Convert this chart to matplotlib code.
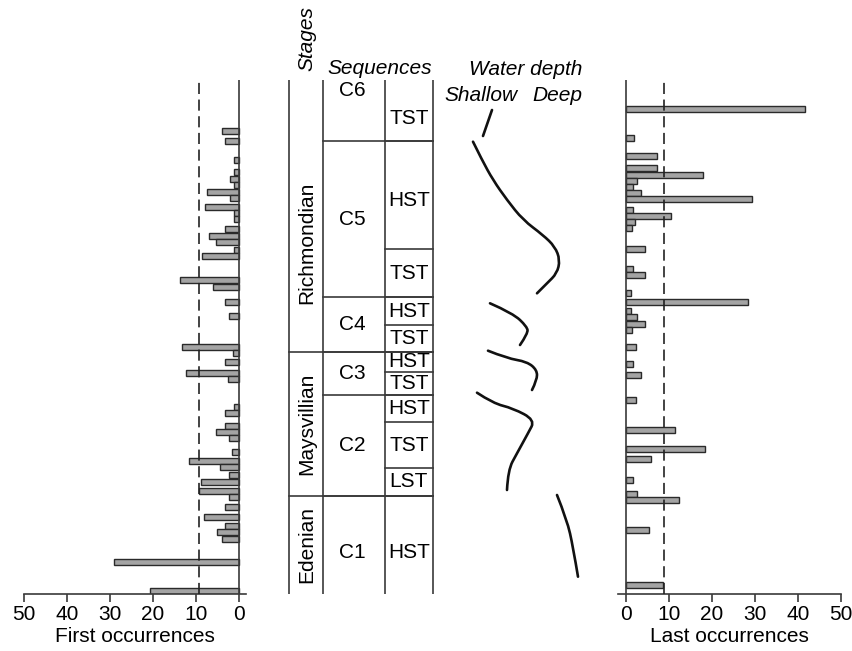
import matplotlib
matplotlib.use("Agg")
import matplotlib.pyplot as plt
from matplotlib.path import Path
from matplotlib.patches import PathPatch
import numpy as np

plt.rcParams['font.family'] = ['Liberation Sans', 'DejaVu Sans']
plt.rcParams['lines.scale_dashes'] = False

# stratigraphic height (arbitrary units, 0 = base of section)
first_lvl = [463, 453, 434, 421.7, 415.3, 409, 402.3, 395.7, 387.3, 381.3, 375,
             364.7, 358.3, 352, 344, 337.7, 313.7, 307.3, 292, 278.3, 247.3, 241,
             232, 221.3, 215, 187, 181, 168, 161.7, 155.7, 141.7, 133, 127.3, 119,
             112.3, 103, 96.7, 87.3, 77, 68.3, 62, 55.3, 32, 3]
first_val = [4.0, 3.1, 1.1, 1.1, 2.1, 1.1, 7.5, 2.1, 7.9, 1.1, 1.1,
             3.1, 7.0, 5.2, 1.1, 8.5, 13.8, 6.1, 3.1, 2.3, 13.2, 1.4,
             3.3, 12.2, 2.5, 1.2, 3.3, 3.1, 5.2, 2.3, 1.5, 11.7, 4.4, 2.2,
             8.7, 9.2, 2.3, 3.1, 8.2, 3.1, 5.1, 4.0, 29.0, 20.7]
first_ref = 9.2

last_lvl = [485.3, 455.7, 438, 425.7, 419.3, 413, 407, 401, 395, 384, 378, 372,
            365.7, 345.3, 325, 318.7, 301.3, 291.7, 282.7, 276.7, 270.3, 264,
            246.7, 229.7, 219.3, 194, 163.7, 145, 134.7, 114, 100.3, 93.7, 64, 9]
last_val = [41.8, 1.95, 7.1, 7.1, 17.9, 2.6, 1.7, 3.6, 29.3, 1.7, 10.4, 2.2,
            1.5, 4.4, 1.7, 4.4, 1.25, 28.4, 1.25, 2.6, 4.4, 1.5,
            2.3, 1.7, 3.4, 2.3, 11.5, 18.5, 5.9, 1.7, 2.6, 12.35, 5.4, 8.6]
last_ref = 8.8

section_top = 514

stages = ['Richmondian', 'Maysvillian', 'Edenian']
stage_base = [242.3, 98.3, 0]

sequences = ['C6', 'C5', 'C4', 'C3', 'C2', 'C1']
seq_base = [453.3, 296.7, 242.3, 198.7, 98.3, 0]

tracts = ['TST', 'HST', 'TST', 'HST', 'TST', 'HST', 'TST', 'HST', 'TST', 'LST', 'HST']
tract_base = [453.3, 344.7, 296.7, 269.3, 242.3, 222, 198.7, 171.7, 126.3, 98.3, 0]

# water depth curve pieces (0 = shallow)
depth_segs = [
    ([3.2, 2.3], [484, 458]),
    ([1.3, 2.2, 3.3, 4.7, 6.3, 8.3, 9.5, 10.0, 9.7, 8.7, 7.7],
     [452.3, 434, 414, 394, 374, 359, 347.3, 334, 320.7, 310.7, 300.7]),
    ([3.0, 5.3, 6.7, 6.8, 6.0], [290.7, 280.7, 267.3, 260.7, 249]),
    ([2.8, 4.7, 6.7, 7.7, 7.7, 7.2], [243.3, 235.7, 232.3, 224, 214, 204]),
    ([1.7, 3.3, 5.3, 7.5, 6.8, 5.7, 4.8, 4.7],
     [201.3, 190.7, 185.7, 174, 160.7, 140.7, 124, 104]),
    ([9.7, 10.7, 11.3, 11.8], [99, 74, 47.3, 17.3]),
]

W, H = 853, 651
FS = 15


def box(x0, x1, ytop, ybot):
    return [x0 / W, 1 - ybot / H, (x1 - x0) / W, (ybot - ytop) / H]


def smooth_path(xs, ys):
    # quadratic bezier through midpoints, read points act as control points
    pts = list(zip(xs, ys))
    if len(pts) < 3:
        return Path(pts, [Path.MOVETO, Path.LINETO])
    verts = [pts[0]]
    codes = [Path.MOVETO]
    for i in range(1, len(pts) - 2):
        mid = ((pts[i][0] + pts[i + 1][0]) / 2, (pts[i][1] + pts[i + 1][1]) / 2)
        verts += [pts[i], mid]
        codes += [Path.CURVE3, Path.CURVE3]
    verts += [pts[-2], pts[-1]]
    codes += [Path.CURVE3, Path.CURVE3]
    return Path(verts, codes)


fig = plt.figure(figsize=(W / 100, H / 100), dpi=100)
bar_fc = '#a4a4a4'
bar_ec = '#2a2a2a'
line_c = '#3a3a3a'


def bar_panel(ax, lvl, val, ref, xlim, label):
    ax.barh(lvl, val, height=6.3, color=bar_fc, edgecolor=bar_ec, linewidth=1.0, zorder=2)
    ax.axvline(0, color=line_c, lw=1.2, zorder=3)
    ax.axvline(ref, color='#222222', lw=1.2, linestyle=(0, (8, 4)), zorder=4)
    ax.set_xlim(*xlim)
    ax.set_ylim(0, section_top)
    for s in ['top', 'left', 'right']:
        ax.spines[s].set_visible(False)
    ax.spines['bottom'].set_color(line_c)
    ax.spines['bottom'].set_linewidth(1.2)
    ax.set_yticks([])
    ax.set_xticks([0, 10, 20, 30, 40, 50])
    ax.tick_params(axis='x', length=6, width=1.2, color=line_c, labelsize=FS, pad=2)
    ax.set_xlabel(label, fontsize=FS, labelpad=2)
    ax.patch.set_visible(False)


ax_l = fig.add_axes(box(24.3, 245.7, 80, 594))
bar_panel(ax_l, first_lvl, first_val, first_ref, (50, -1.63), 'First occurrences')

ax_r = fig.add_axes(box(618.3, 840.7, 80, 594))
bar_panel(ax_r, last_lvl, last_val, last_ref, (-1.8, 50), 'Last occurrences')

# stratigraphic column
ax_c = fig.add_axes(box(260, 600, 80, 594))
ax_c.set_xlim(260, 600)
ax_c.set_ylim(0, section_top)
ax_c.axis('off')
x_st, x_sq, x_tr, x_end = 289.3, 323.3, 385, 432.7
for x in [x_st, x_sq, x_tr, x_end]:
    ax_c.plot([x, x], [0, section_top], color=line_c, lw=1.2)

tops = [section_top] + stage_base[:-1]
for name, b, t in zip(stages, stage_base, tops):
    if b > 0:
        ax_c.plot([x_st, x_end], [b, b], color=line_c, lw=1.2)
    yc = (b + t) / 2
    if name == 'Richmondian':
        yc -= 27
    ax_c.text((x_st + x_sq) / 2, yc, name, rotation=90, ha='center', va='center', fontsize=FS)

tops = [section_top] + seq_base[:-1]
for name, b, t in zip(sequences, seq_base, tops):
    if b > 0:
        ax_c.plot([x_sq, x_end], [b, b], color=line_c, lw=1.2)
    yc = (b + t) / 2
    if name == 'C6':
        yc += 20
    if name == 'C1':
        yc -= 8
    ax_c.text((x_sq + x_tr) / 2 - 2, yc, name, ha='center', va='center', fontsize=FS)

tops = [section_top] + tract_base[:-1]
for i, (name, b, t) in enumerate(zip(tracts, tract_base, tops)):
    if b > 0:
        ax_c.plot([x_tr, x_end], [b, b], color=line_c, lw=1.2)
    yc = (b + t) / 2
    if i == 0 or i == len(tracts) - 1:
        yc -= 8
    if i == 1:
        yc -= 5
    ax_c.text((x_tr + x_end) / 2, yc, name, ha='center', va='center', fontsize=FS)

ax_c.text(306.5, 556, 'Stages', rotation=90, ha='center', va='center',
          fontsize=FS, style='italic', clip_on=False)
ax_c.text(380, 526, 'Sequences', ha='center', va='center',
          fontsize=FS, style='italic', clip_on=False)

# water depth curve
ax_w = fig.add_axes(box(460, 590, 80, 594))
ax_w.set_xlim(0, 13)
ax_w.set_ylim(0, section_top)
ax_w.axis('off')
for xs, ys in depth_segs:
    ax_w.add_patch(PathPatch(smooth_path(xs, ys), fill=False, edgecolor='#111111',
                             lw=1.9, capstyle='round', joinstyle='round'))
ax_w.text(6.6, 525, 'Water depth', ha='center', va='center', fontsize=FS,
          style='italic', clip_on=False)
ax_w.text(2.1, 499, 'Shallow', ha='center', va='center', fontsize=FS, style='italic')
ax_w.text(9.7, 499, 'Deep', ha='center', va='center', fontsize=FS, style='italic')

fig.savefig('out.png', dpi=100)
